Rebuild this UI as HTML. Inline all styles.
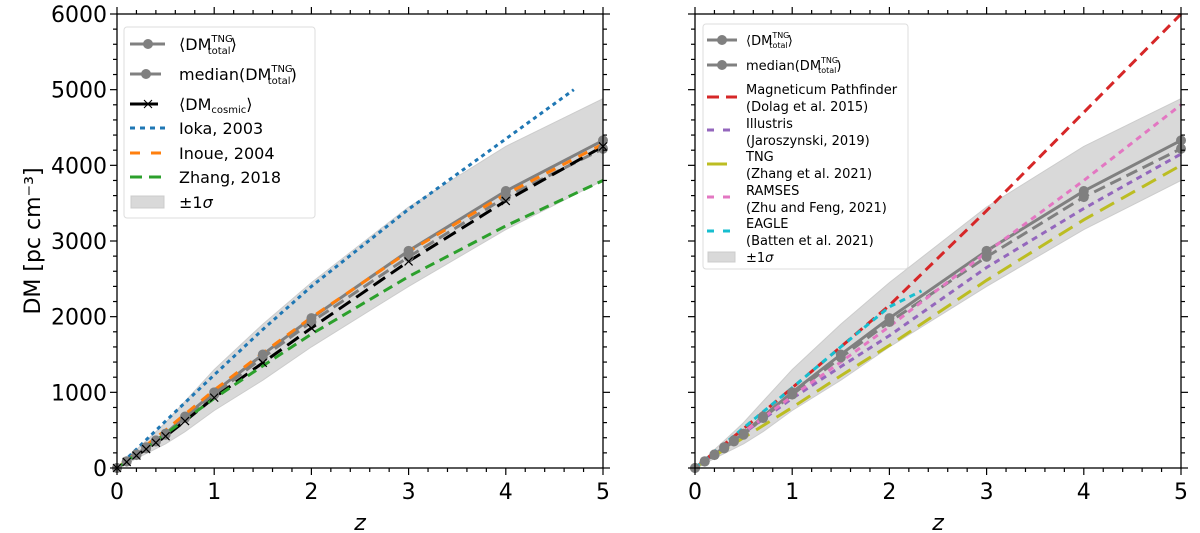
<!DOCTYPE html>
<html><head><meta charset="utf-8"><style>
body{margin:0;background:#fff;}
svg{display:block;font-family:"DejaVu Sans","Liberation Sans",sans-serif;}
</style></head><body>
<svg id="chart" width="1200" height="533" viewBox="0 0 1200 533"></svg>
<script>
const zPts=[0,0.1,0.2,0.3,0.4,0.5,0.7,1,1.5,2,3,4,5];
const tngMean=[0,90,180,275,365,455,680,1000,1500,1980,2870,3660,4330];
const tngMedian=[0,85,170,260,350,440,660,970,1460,1930,2790,3580,4220];
const cosmic=[0,80,165,250,335,420,620,930,1390,1850,2730,3530,4250];
const sigHi=[0,115,240,360,480,600,880,1300,1900,2450,3450,4250,4880];
const sigLo=[0,60,125,190,255,320,480,760,1160,1600,2400,3150,3800];
const iokaZ=[0,0.5,1,1.5,2,3,4,4.7];
const ioka=[0,620,1230,1830,2400,3420,4350,5000];
const inoueZ=[0,0.5,1,1.5,2,3,4,5];
const inoue=[0,500,1030,1520,1990,2860,3620,4280];
const zhangZ=[0,0.5,1,1.5,2,3,4,5];
const zhang=[0,450,920,1350,1770,2530,3200,3800];
const magZ=[0,0.5,1,1.5,2,3,4,5];
const magneticum=[0,520,1060,1600,2150,3400,4700,6000];
const illustris=[0,460,920,1340,1750,2650,3430,4150];
const tngZhang=[0,400,800,1220,1620,2480,3280,4000];
const ramses=[0,470,950,1400,1870,2850,3800,4800];
const eagleZ=[0,0.5,1,1.5,2,2.33];
const eagle=[0,530,1060,1600,2130,2340];
const xTicks=[0,1,2,3,4,5];
const yTicks=[0,1000,2000,3000,4000,5000,6000];

const NS="http://www.w3.org/2000/svg";
const svg=document.getElementById('chart');
function mk(tag,attrs,parent){const e=document.createElementNS(NS,tag);for(const k in attrs)e.setAttribute(k,attrs[k]);(parent||svg).appendChild(e);return e;}
const Y0=468,Y1=14;
function yS(v){return Y0-(v/6000)*(Y0-Y1);}
function makePanel(x0,x1,name){
  const g=mk('g',{});
  
  
  const xS=z=>x0+(z/5)*(x1-x0);
  return {g,xS};
}
function line(p,xs,ys,color,w,dash,name){
  const d=xs.map((z,i)=>(i?'L':'M')+p.xS(z).toFixed(1)+','+yS(ys[i]).toFixed(1)).join('');
  const e=mk('path',{d:d,fill:'none',stroke:color,'stroke-width':w,'stroke-dasharray':dash||'none'},p.g);
  
  
  return e;
}
function band(p,name){
  let d='M'+zPts.map((z,i)=>p.xS(z).toFixed(1)+','+yS(sigHi[i]).toFixed(1)).join('L');
  for(let i=zPts.length-1;i>=0;i--)d+='L'+p.xS(zPts[i]).toFixed(1)+','+yS(sigLo[i]).toFixed(1);
  const e=mk('path',{d:d+'Z',fill:'#d9d9d9',stroke:'#cccccc','stroke-width':1},p.g);
  
  
}
function dots(p,ys,name){
  zPts.forEach((z,i)=>{
    const c=mk('circle',{cx:p.xS(z),cy:yS(ys[i]),r:5,fill:'#808080'},p.g);
    
    
  });
}
function crosses(p,ys,name){
  zPts.forEach((z,i)=>{
    const x=p.xS(z),y=yS(ys[i]);
    const c=mk('path',{d:`M${x-4},${y-4}L${x+4},${y+4}M${x-4},${y+4}L${x+4},${y-4}`,stroke:'#000','stroke-width':1.2},p.g);
    
    
  });
}
function axes(p,x0,x1,showY,pre){
  const a=mk('rect',{x:x0,y:Y1,width:x1-x0,height:Y0-Y1,fill:'none',stroke:'#000','stroke-width':1.3},p.g);
  
  
  for(let z=0;z<=5.001;z+=0.2){
    const x=p.xS(z),maj=Math.abs(z-Math.round(z))<0.01,L=maj?7:4;
    mk('line',{x1:x,x2:x,y1:Y0,y2:Y0+L,stroke:'#000','stroke-width':1.2},p.g);
    mk('line',{x1:x,x2:x,y1:Y1,y2:Y1-L,stroke:'#000','stroke-width':1.2},p.g);
  }
  for(let v=0;v<=6000;v+=200){
    const y=yS(v),maj=v%1000===0,L=maj?7:4;
    mk('line',{x1:x0,x2:x0-L,y1:y,y2:y,stroke:'#000','stroke-width':1.2},p.g);
    mk('line',{x1:x1,x2:x1+L,y1:y,y2:y,stroke:'#000','stroke-width':1.2},p.g);
  }
  xTicks.forEach(t=>{
    const e=mk('text',{x:p.xS(t),y:Y0+31,'text-anchor':'middle','font-size':22},p.g);e.textContent=t;
    
    
  });
  if(showY)yTicks.forEach(t=>{
    const e=mk('text',{x:x0-10,y:yS(t)+8,'text-anchor':'end','font-size':22},p.g);e.textContent=t;
    
    
  });
  const xl=mk('text',{x:(x0+x1)/2,y:Y0+62,'text-anchor':'middle','font-size':22,'font-style':'italic'},p.g);xl.textContent='z';
  
  
}
const L=makePanel(117,603,'left-panel');
band(L,'sigma-band');
line(L,iokaZ,ioka,'#1f77b4',3,'4,4','ioka-2003-line');
line(L,zPts,tngMean,'#808080',3,null,'tng-mean-line');
line(L,zPts,tngMedian,'#808080',3,'12,6','tng-median-line');
line(L,zPts,cosmic,'#000',3,'14,7','cosmic-line');
line(L,inoueZ,inoue,'#ff7f0e',3,'10,8','inoue-2004-line');
line(L,zhangZ,zhang,'#2ca02c',3,'10,6','zhang-2018-line');
dots(L,tngMean,'tng-mean-marker');dots(L,tngMedian,'tng-median-marker');crosses(L,cosmic,'cosmic-marker');
axes(L,117,603,true,'left');
const yl=mk('text',{x:0,y:0,'text-anchor':'middle','font-size':22,transform:'translate(40,241) rotate(-90)'});
yl.textContent='DM [pc cm⁻³]';


const R=makePanel(695,1181,'right-panel');
band(R,'sigma-band-right');
line(R,zPts,tngMean,'#808080',3,null,'tng-mean-line-right');
line(R,zPts,tngMedian,'#808080',3,'12,6','tng-median-line-right');
line(R,magZ,magneticum,'#d62728',3,'10,6','magneticum-line');
line(R,magZ,illustris,'#9467bd',3,'6,5','illustris-line');
line(R,magZ,tngZhang,'#bcbd22',3,'16,8','tng-zhang-line');
line(R,magZ,ramses,'#e377c2',3,'6,5','ramses-line');
line(R,eagleZ,eagle,'#17becf',3,'6,5','eagle-line');
dots(R,tngMean,'tng-mean-marker-right');dots(R,tngMedian,'tng-median-marker-right');
axes(R,695,1181,false,'right');
</script>
<svg width="1200" height="533" style="position:absolute;left:0;top:0" font-family="DejaVu Sans, Liberation Sans, sans-serif">
<g>
<rect x="124" y="27" width="191" height="191" rx="3" fill="#fff" fill-opacity="0.85" stroke="#ddd"/>
<g font-size="16">
<line x1="130" x2="165" y1="44" y2="44" stroke="#808080" stroke-width="3"/><circle cx="148" cy="44" r="5" fill="#808080"/>
<text x="179" y="50">⟨DM<tspan font-size="10" dy="-8">TNG</tspan><tspan font-size="10" dx="-25" dy="12">total</tspan><tspan dy="-4">⟩</tspan></text>
<line x1="130" x2="161" y1="74" y2="74" stroke="#808080" stroke-width="3"/><circle cx="146" cy="74" r="5" fill="#808080"/>
<text x="179" y="80">median(DM<tspan font-size="10" dy="-8">TNG</tspan><tspan font-size="10" dx="-25" dy="12">total</tspan><tspan dy="-4">)</tspan></text>
<line x1="130" x2="158" y1="104" y2="104" stroke="#000" stroke-width="3"/><path d="M144,100L152,108M144,108L152,100" stroke="#000"/>
<text x="179" y="110">⟨DM<tspan font-size="10" dy="3">cosmic</tspan><tspan dy="-3">⟩</tspan></text>
<line x1="130" x2="165" y1="128" y2="128" stroke="#1f77b4" stroke-width="3" stroke-dasharray="5,5"/><text x="179" y="134">Ioka, 2003</text>
<line x1="130" x2="165" y1="153" y2="153" stroke="#ff7f0e" stroke-width="3" stroke-dasharray="10,11"/><text x="179" y="159">Inoue, 2004</text>
<line x1="130" x2="165" y1="177" y2="177" stroke="#2ca02c" stroke-width="3" stroke-dasharray="12,7"/><text x="179" y="183">Zhang, 2018</text>
<rect x="131" y="196" width="33" height="12" fill="#d9d9d9" stroke="#ccc"/><text x="179" y="208">±1<tspan font-style="italic">σ</tspan></text>
</g></g>
<g>
<rect x="703" y="24" width="205" height="245" rx="3" fill="#fff" fill-opacity="0.85" stroke="#ddd"/>
<g font-size="13">
<line x1="707" x2="737" y1="40" y2="40" stroke="#808080" stroke-width="3"/><circle cx="722" cy="40" r="5" fill="#808080"/>
<text x="746" y="45">⟨DM<tspan font-size="8" dy="-7">TNG</tspan><tspan font-size="8" dx="-20" dy="10">total</tspan><tspan dy="-3">⟩</tspan></text>
<line x1="707" x2="737" y1="65" y2="65" stroke="#808080" stroke-width="3"/><circle cx="722" cy="65" r="5" fill="#808080"/>
<text x="746" y="70">median(DM<tspan font-size="8" dy="-7">TNG</tspan><tspan font-size="8" dx="-20" dy="10">total</tspan><tspan dy="-3">)</tspan></text>
<line x1="707" x2="737" y1="97" y2="97" stroke="#d62728" stroke-width="3" stroke-dasharray="12,7"/><text x="746" y="94">Magneticum Pathfinder</text><text x="746" y="111">(Dolag et al. 2015)</text>
<line x1="707" x2="737" y1="130" y2="130" stroke="#9467bd" stroke-width="3" stroke-dasharray="7,9"/><text x="746" y="128">Illustris</text><text x="746" y="145">(Jaroszynski, 2019)</text>
<line x1="707" x2="727" y1="164" y2="164" stroke="#bcbd22" stroke-width="3"/><text x="746" y="161">TNG</text><text x="746" y="178">(Zhang et al. 2021)</text>
<line x1="707" x2="737" y1="197" y2="197" stroke="#e377c2" stroke-width="3" stroke-dasharray="7,9"/><text x="746" y="195">RAMSES</text><text x="746" y="212">(Zhu and Feng, 2021)</text>
<line x1="707" x2="737" y1="231" y2="231" stroke="#17becf" stroke-width="3" stroke-dasharray="7,9"/><text x="746" y="228">EAGLE</text><text x="746" y="245">(Batten et al. 2021)</text>
<rect x="708" y="252" width="27" height="10" fill="#d9d9d9" stroke="#ccc"/><text x="746" y="262">±1<tspan font-style="italic">σ</tspan></text>
</g></g>
</svg>
</body></html>
